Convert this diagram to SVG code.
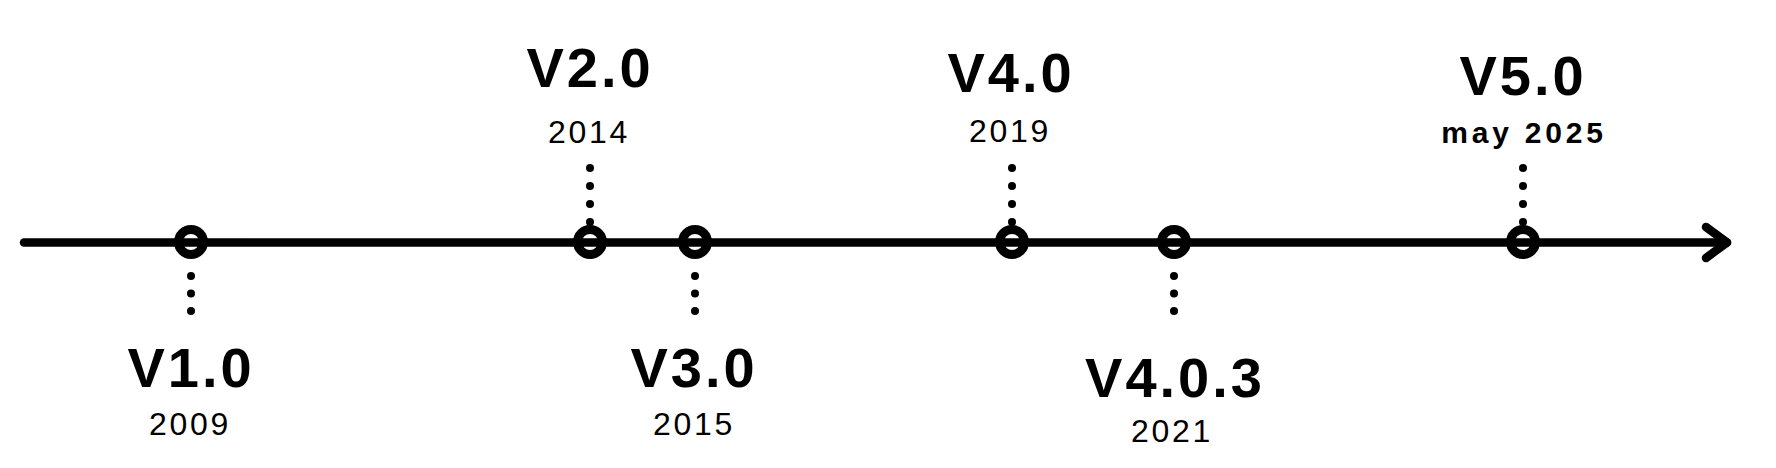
<svg xmlns="http://www.w3.org/2000/svg" width="1776" height="468" viewBox="0 0 1776 468">
<style>
.axis{stroke:#000;stroke-width:8.5;stroke-linecap:round;stroke-linejoin:round;fill:none}
.dot{fill:#000}
.ring{stroke:#000;stroke-width:9;fill:none}
.ver{font-family:"Liberation Sans",Arial,sans-serif;font-weight:bold;font-size:56px;letter-spacing:3px;text-anchor:middle;fill:#000}
.yr{font-family:"Liberation Sans",Arial,sans-serif;font-size:32px;letter-spacing:2.7px;text-anchor:middle;fill:#000}
.yrb{font-family:"Liberation Sans",Arial,sans-serif;font-weight:bold;font-size:30px;letter-spacing:3.8px;text-anchor:middle;fill:#000}
</style>
<defs>
<g id="up"><circle class="dot" cx="0" cy="-20" r="4"/><circle class="dot" cx="0" cy="-38" r="4"/><circle class="dot" cx="0" cy="-56" r="4"/><circle class="dot" cx="0" cy="-74" r="4"/></g>
<g id="down"><circle class="dot" cx="0" cy="34" r="4"/><circle class="dot" cx="0" cy="51.5" r="4"/><circle class="dot" cx="0" cy="69" r="4"/></g>
</defs>
<rect width="1776" height="468" fill="#fff"/>
<g id="connectors">
<path class="axis" d="M24 242.5 H1727"/>
<path class="axis" d="M1706 227 L1727 242.5 L1706 258"/>
<use href="#down" x="191" y="242"/>
<use href="#up" x="590" y="242"/>
<use href="#down" x="695" y="242"/>
<use href="#up" x="1012" y="242"/>
<use href="#down" x="1174" y="242"/>
<use href="#up" x="1523" y="242"/>
</g>
<g id="v1">
<circle class="ring" cx="191" cy="242" r="12.5"/>
<text class="ver" x="191" y="387">V1.0</text>
<text class="yr" x="190" y="435">2009</text>
</g>
<g id="v2">
<circle class="ring" cx="590" cy="242" r="12.5"/>
<text class="ver" x="590" y="87">V2.0</text>
<text class="yr" x="589" y="143">2014</text>
</g>
<g id="v3">
<circle class="ring" cx="695" cy="242" r="12.5"/>
<text class="ver" x="694" y="387">V3.0</text>
<text class="yr" x="694" y="435">2015</text>
</g>
<g id="v4">
<circle class="ring" cx="1012" cy="242" r="12.5"/>
<text class="ver" x="1011" y="92">V4.0</text>
<text class="yr" x="1010" y="142">2019</text>
</g>
<g id="v403">
<circle class="ring" cx="1174" cy="242" r="12.5"/>
<text class="ver" x="1175" y="397">V4.0.3</text>
<text class="yr" x="1172" y="442">2021</text>
</g>
<g id="v5">
<circle class="ring" cx="1523" cy="242" r="12.5"/>
<text class="ver" x="1523" y="95">V5.0</text>
<text class="yrb" x="1524" y="143">may 2025</text>
</g>
</svg>
